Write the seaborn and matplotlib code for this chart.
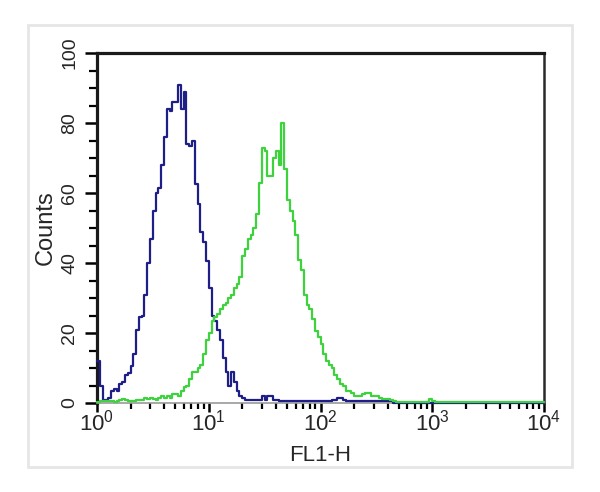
import matplotlib
matplotlib.use("Agg")
import matplotlib.pyplot as plt
import numpy as np
import pandas as pd
import seaborn as sns
from matplotlib.patches import Rectangle
from matplotlib.ticker import LogLocator, MultipleLocator, NullFormatter

# 160 log-spaced channels over 10^0 .. 10^4 (40 per decade)
EDGES_LOG = np.linspace(0, 4, 161)

blue_counts = [
    12, 5, 1, 1, 1.5, 3.5, 4, 3.5, 5.5, 6,
    8, 8.5, 10.5, 14, 21, 24.5, 25, 31, 40, 47,
    55, 60, 61.5, 68, 76, 84, 83.5, 86, 86, 91,
    84, 89, 74, 73.5, 75, 62.5, 57, 49, 46, 40.5,
    33, 25, 23.5, 21, 18, 13, 9, 5, 9, 6,
    3.5, 2, 1.5, 1, 1, 0.8, 0.8, 1, 1, 2,
    1, 2, 2, 1, 0.8, 0.6, 0.6, 0.6, 0.6, 0.6,
    0.6, 0.6, 0.6, 0.6, 0.6, 0.6, 0.6, 0.6, 0.6, 0.6,
    0.6, 0.6, 0.6, 0.6, 0.8, 1, 1.5, 1.5, 0.8, 0.6,
    0.6, 0.6, 0.6, 0.6, 0.6, 0.6, 0.6, 0.6, 0.6, 0.6,
    0.6, 0.6, 0.6, 0.6, 0.6, 0.6, 0, 0, 0, 0,
    0, 0, 0, 0, 0, 0, 0, 0, 0, 0,
    0, 0, 0, 0, 0, 0, 0, 0, 0, 0,
    0, 0, 0, 0, 0, 0, 0, 0, 0, 0,
    0, 0, 0, 0, 0, 0, 0, 0, 0, 0,
    0, 0, 0, 0, 0, 0, 0, 0, 0, 0,
]
green_counts = [
    0.3, 0.5, 0.5, 0.5, 0.5, 0.5, 0.3, 0.5, 1, 1.2,
    1, 0.5, 0.5, 0.5, 0.8, 0.8, 1, 1.5, 1.2, 1.5,
    1.2, 1, 1.5, 2, 1.5, 2, 1.5, 2.5, 2.5, 2,
    3.5, 4.5, 5, 7, 9, 9, 10, 11, 14, 18,
    20, 23.5, 24.5, 25.5, 27, 28, 28.5, 30, 31, 33,
    34, 36, 42, 44, 47, 48, 50, 54, 63, 73,
    72, 65, 65, 70, 72, 68, 80, 67, 58, 55,
    52, 48, 41, 38, 31, 28, 27, 24, 20.5, 19,
    17, 14, 12, 11, 10, 8, 7, 5.4, 5, 3.4,
    3.4, 3, 2, 2, 2, 2.5, 3, 3, 2, 2,
    2, 1.5, 1.2, 1.2, 1.2, 1, 0.5, 0.3, 0.3, 0.3,
    0.3, 0.3, 0.3, 0.3, 0.3, 0.3, 0.3, 0.3, 0.3, 1.2,
    0.5, 0.3, 0.3, 0.3, 0.3, 0.3, 0.3, 0.3, 0.3, 0.3,
    0.3, 0.3, 0.3, 0.3, 0.3, 0.3, 0.3, 0.3, 0.3, 0.3,
    0.3, 0.3, 0.3, 0.3, 0.3, 0.3, 0.3, 0.3, 0.3, 0.3,
    0.3, 0.3, 0.3, 0.3, 0.3, 0.3, 0.3, 0.3, 0.3, 0.3,
]

x_ticks = [1, 10, 100, 1000, 10000]
x_tick_labels = ["$10^0$", "$10^1$", "$10^2$", "$10^3$", "$10^4$"]
y_ticks = [0, 20, 40, 60, 80, 100]

sns.set_theme(style="ticks")
plt.rcParams["font.family"] = ["Liberation Sans", "DejaVu Sans"]
plt.rcParams["mathtext.default"] = "regular"

edges = 10 ** EDGES_LOG
df = pd.DataFrame({
    "FL1-H": np.concatenate([edges, edges]),
    "Counts": np.concatenate([blue_counts + [blue_counts[-1]],
                              green_counts + [green_counts[-1]]]),
    "sample": ["control"] * 161 + ["stained"] * 161,
})

fig = plt.figure(figsize=(6, 4.92), dpi=100)
fig.patches.append(Rectangle((28 / 600, 1 - 467 / 492), 544 / 600, 442 / 492,
                             transform=fig.transFigure, fill=False,
                             edgecolor="#e6e6e6", linewidth=2))
ax = fig.add_axes([97 / 600, 1 - 403 / 492, 447 / 600, 350 / 492])

sns.lineplot(data=df, x="FL1-H", y="Counts", hue="sample",
             palette={"control": "#1e1e88", "stained": "#3fd23f"},
             drawstyle="steps-post", linewidth=1.6, legend=False, ax=ax,
             clip_on=False, zorder=3)

ax.set_xscale("log")
ax.set_xlim(1, 10000)
ax.set_ylim(0, 100)
ax.set_xticks(x_ticks)
ax.set_xticklabels(x_tick_labels)
ax.xaxis.set_minor_locator(LogLocator(base=10, subs=np.arange(2, 10)))
ax.xaxis.set_minor_formatter(NullFormatter())
ax.set_yticks(y_ticks)
ax.set_yticklabels([str(v) for v in y_ticks], rotation=90, va="center")
ax.yaxis.set_minor_locator(MultipleLocator(5))

ax.tick_params(axis="y", which="major", direction="out", length=8.5, width=1.8,
               color="black", pad=5, labelsize=14)
ax.tick_params(axis="y", which="minor", direction="out", length=6, width=1.6,
               color="black")
ax.tick_params(axis="x", which="major", direction="out", length=6.5, width=1.8,
               color="black", pad=-2, labelsize=16)
ax.tick_params(axis="x", which="minor", direction="out", length=4, width=1.6,
               color="black")

for side in ["left", "top"]:
    ax.spines[side].set_linewidth(2.3)
    ax.spines[side].set_color("#1a1a1a")
ax.spines["right"].set_linewidth(1.8)
ax.spines["right"].set_color("#2a2a2a")
ax.spines["bottom"].set_linewidth(1.2)
ax.spines["bottom"].set_color("#999999")

ax.set_xlabel("FL1-H", fontsize=16, labelpad=7)
ax.set_ylabel("Counts", fontsize=17, labelpad=3)

fig.savefig("out.png", dpi=100)
